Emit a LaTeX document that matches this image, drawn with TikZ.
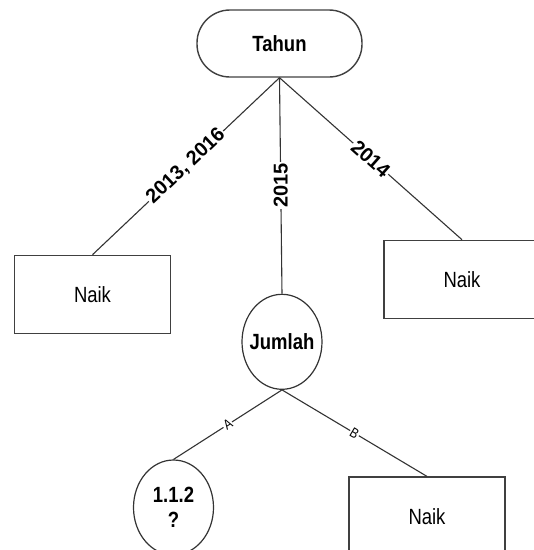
\documentclass[tikz,border=0pt]{standalone}
\usepackage{fontspec}
\setmainfont{Liberation Sans}[FakeStretch=0.84]
\newfontfamily\yearfont{Liberation Sans}
\usetikzlibrary{
  positioning,
  shapes.geometric
}

\begin{document}
\begin{tikzpicture}[x=1pt, y=1pt, every node/.style={font=\fontsize{22}{25}\selectfont},
  rootnode/.style={draw=black!75, line width=1.4pt, rounded corners=33pt, minimum width=165pt, minimum height=67pt, font=\fontsize{22}{25}\selectfont\bfseries},
  leaf/.style={draw=black!75, line width=1.6pt, minimum width=156pt, minimum height=78pt},
  split/.style={draw=black!80, line width=1.2pt, ellipse, minimum width=80pt, minimum height=95pt, inner xsep=-5pt, inner ysep=0pt, align=center, font=\fontsize{22}{25}\selectfont\bfseries},
  branch/.style={draw=black!80, line width=1.1pt},
  year/.style={fill=white, inner sep=1pt, font=\fontsize{20}{22}\selectfont\yearfont\bfseries},
  tag/.style={fill=white, inner sep=1pt, font=\fontsize{14}{16}\selectfont}
]
\useasboundingbox (0,0) rectangle (534,-550);

% Tree nodes
\node[rootnode] (tahun) at (279.5,-43.5) {Tahun};
\node[leaf, below=177pt of tahun, xshift=-187pt] (naikA) {Naik};
\node[split, below=216pt of tahun, xshift=2.5pt] (jumlah) {Jumlah};
\node[leaf, below=162pt of tahun, xshift=182.5pt] (naikB) {Naik};
\node[split, below=69.5pt of jumlah, xshift=-108.5pt] (unknown) {1.1.2\\?};
\node[leaf, below=86.5pt of jumlah, xshift=145pt] (naikC) {Naik};

% Branches
\draw[branch] (tahun.south) -- node[year, sloped] {2013, 2016} (naikA.north);
\draw[branch] (tahun.south) -- node[year, rotate=90] {2015} (jumlah.north);
\draw[branch] (tahun.south) -- node[year, sloped] {2014} (naikB.north);
\draw[branch] (jumlah.south) -- node[tag, sloped] {A} (unknown.north);
\draw[branch] (jumlah.south) -- node[tag, sloped] {B} (naikC.north);

\end{tikzpicture}
\end{document}
